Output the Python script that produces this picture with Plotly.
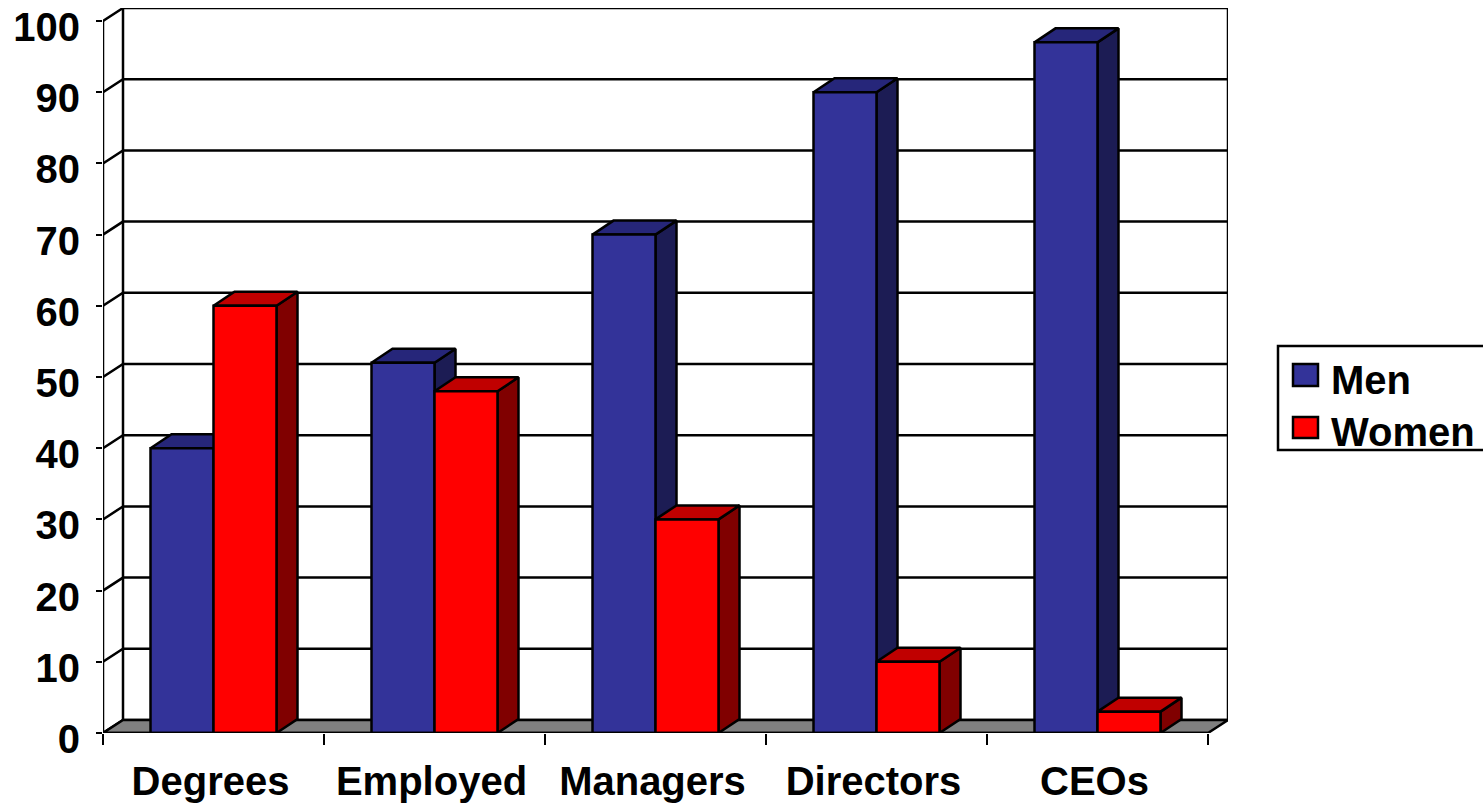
import plotly.graph_objects as go

# Chart data
categories = ["Degrees", "Employed", "Managers", "Directors", "CEOs"]
men = [40, 52, 70, 90, 97]
women = [60, 48, 30, 10, 3]
y_ticks = [0, 10, 20, 30, 40, 50, 60, 70, 80, 90, 100]

# Colours per face of the extruded columns
MEN_FRONT, MEN_SIDE, MEN_TOP = "#333399", "#1c1c54", "#26267a"
WOMEN_FRONT, WOMEN_SIDE, WOMEN_TOP = "#ff0000", "#800000", "#c00000"
FLOOR = "#808080"
FONT = "Liberation Sans"
FONT_SIZE = 40
LINE_W = 2.5

# Canvas geometry in pixels
W, H = 1483, 804
LEFT, RIGHT_EDGE, TOP, BOTTOM = 103, 1228, 8, 733
UNIT_X, UNIT_Y = 221.0, 7.12          # pixels per category, pixels per percent

# Plot-box depth and column depth, in data units
WALL_DX, WALL_DY = 20 / UNIT_X, 13 / UNIT_Y
BAR_DX, BAR_DY = 21 / UNIT_X, 14 / UNIT_Y
BAR_W = 63 / UNIT_X

x_min = -0.5
x_max = x_min + (RIGHT_EDGE - LEFT) / UNIT_X
x_front_max = len(categories) - 0.5
y_max = (BOTTOM - TOP) / UNIT_Y


def px(x):
    return (x - LEFT) / (RIGHT_EDGE - LEFT)


def py(y):
    return (BOTTOM - y) / (BOTTOM - TOP)


def line_trace(xs, ys):
    return go.Scatter(x=xs, y=ys, mode="lines", line=dict(color="black", width=LINE_W),
                      cliponaxis=False, hoverinfo="skip", showlegend=False)


def poly_trace(xs, ys, fill):
    return go.Scatter(x=xs, y=ys, mode="lines", fill="toself", fillcolor=fill,
                      line=dict(color="black", width=LINE_W), cliponaxis=False,
                      hoverinfo="skip", showlegend=False)


fig = go.Figure()

# Back wall grid lines and slanted lines on the left wall
gx, gy = [], []
for t in y_ticks:
    gx += [x_min, x_min + WALL_DX, x_max, None]
    gy += [t, t + WALL_DY, t + WALL_DY, None]
fig.add_trace(line_trace(gx, gy))

# Wall frame and front vertical axis
fig.add_trace(line_trace([x_min + WALL_DX, x_min + WALL_DX], [WALL_DY, 100 + WALL_DY]))
fig.add_trace(line_trace([x_max, x_max], [WALL_DY, 100 + WALL_DY]))
fig.add_trace(line_trace([x_min, x_min], [0, 100]))

# Floor
fig.add_trace(poly_trace(
    [x_min, x_front_max, x_max, x_min + WALL_DX, x_min],
    [0, 0, WALL_DY, WALL_DY, 0], FLOOR))


def faces(values, left_edges, side_color, top_color):
    """Add the side and top faces for one series of columns."""
    sx, sy, tx, ty = [], [], [], []
    for v, xl in zip(values, left_edges):
        xr = xl + BAR_W
        sx += [xr, xr + BAR_DX, xr + BAR_DX, xr, xr, None]
        sy += [0, BAR_DY, v + BAR_DY, v, 0, None]
        tx += [xl, xr, xr + BAR_DX, xl + BAR_DX, xl, None]
        ty += [v, v, v + BAR_DY, v + BAR_DY, v, None]
    fig.add_trace(poly_trace(sx, sy, side_color))
    fig.add_trace(poly_trace(tx, ty, top_color))


positions = list(range(len(categories)))
faces(men, [p - BAR_W for p in positions], MEN_SIDE, MEN_TOP)
faces(women, positions, WOMEN_SIDE, WOMEN_TOP)

# Front faces sit on an overlaying axis so they paint above the extruded faces
for name, values, color in (("Men", men, MEN_FRONT), ("Women", women, WOMEN_FRONT)):
    fig.add_trace(go.Bar(x=positions, y=values, name=name, width=BAR_W, yaxis="y2",
                         marker=dict(color=color, line=dict(color="black", width=LINE_W)),
                         cliponaxis=False, showlegend=False))

# Front baseline of the floor
fig.add_trace(go.Scatter(x=[x_min, x_front_max], y=[0, 0], mode="lines", yaxis="y2",
                         line=dict(color="black", width=LINE_W), cliponaxis=False,
                         hoverinfo="skip", showlegend=False))

# Legend box, swatches and labels
shapes = [
    dict(type="rect", xref="paper", yref="paper", x0=px(1278), x1=px(1495), y0=py(450), y1=py(346),
         line=dict(color="black", width=LINE_W), fillcolor="white"),
    dict(type="rect", xref="paper", yref="paper", x0=px(1293), x1=px(1318), y0=py(386), y1=py(364),
         line=dict(color="black", width=LINE_W), fillcolor=MEN_FRONT),
    dict(type="rect", xref="paper", yref="paper", x0=px(1293), x1=px(1318), y0=py(438), y1=py(417),
         line=dict(color="black", width=LINE_W), fillcolor=WOMEN_FRONT),
]
annotations = [
    dict(text="<b>Men</b>", xref="paper", yref="paper", x=px(1329), y=py(380), xanchor="left",
         yanchor="middle", showarrow=False, font=dict(family=FONT, size=FONT_SIZE, color="black")),
    dict(text="<b>Women</b>", xref="paper", yref="paper", x=px(1329), y=py(432), xanchor="left",
         yanchor="middle", showarrow=False, font=dict(family=FONT, size=FONT_SIZE, color="black")),
]

fig.update_layout(
    width=W, height=H,
    margin=dict(l=LEFT, r=W - RIGHT_EDGE, t=TOP, b=H - BOTTOM, autoexpand=False),
    paper_bgcolor="white", plot_bgcolor="white",
    showlegend=False, barmode="group", bargap=1 - 2 * BAR_W, bargroupgap=0,
    shapes=shapes, annotations=annotations,
    font=dict(family=FONT, size=FONT_SIZE, color="black"),
    xaxis=dict(range=[x_min, x_max], tickmode="array", tickvals=positions,
               ticktext=[f"<b>{c}</b>" for c in categories], ticks="", showgrid=False,
               zeroline=False, showline=False, ticklabelstandoff=21, ticklabelshift=-3,
               minor=dict(tickmode="array",
                          tickvals=[p - 0.5 for p in positions] + [x_front_max],
                          ticks="outside", ticklen=11, tickwidth=2, tickcolor="black",
                          showgrid=False)),
    yaxis=dict(range=[0, y_max], tickmode="array", tickvals=y_ticks,
               ticktext=[f"<b>{t}</b>" for t in y_ticks], ticks="outside", ticklen=6,
               tickwidth=2, tickcolor="black", showgrid=False, zeroline=False,
               showline=False, ticklabelstandoff=8, ticklabelshift=6),
    yaxis2=dict(range=[0, y_max], overlaying="y", visible=False),
)

fig.write_html("out.html", config=dict(displayModeBar=False))
